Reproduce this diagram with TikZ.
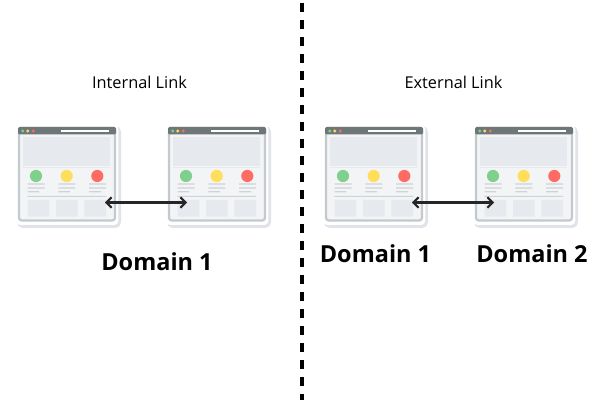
\documentclass[tikz,border=0pt]{standalone}
\usepackage{fontspec}
\setmainfont{Open Sans}
\usetikzlibrary{arrows.meta}
\definecolor{framegrey}{HTML}{C3C9CF}
\definecolor{shadowgrey}{HTML}{E0E3E8}
\definecolor{pagegrey}{HTML}{F3F4F5}
\definecolor{panelgrey}{HTML}{E6E9ED}
\definecolor{bargrey}{HTML}{6D7777}
\definecolor{linegrey}{HTML}{CFD3D7}
\definecolor{dotgreen}{HTML}{7FD08C}
\definecolor{dotyellow}{HTML}{FFDE59}
\definecolor{dotred}{HTML}{FF6B63}
\tikzset{
  every picture/.style={line join=round, line cap=butt},
  linktitle/.style={font=\fontsize{11.6}{14}\selectfont, text=black},
  domainlabel/.style={font=\fontsize{16.7}{20}\selectfont\bfseries, text=black},
  linkarrow/.style={<->, >={Straight Barb[length=3.6pt,width=7.5pt]}, line width=1.5pt, draw=black!85},
  webpage/.pic={
    \fill[shadowgrey,rounded corners=4pt](-1,-1) rectangle (103,101);
    \fill[white,rounded corners=3pt](-2,-2) rectangle (100.3,98);
    \draw[framegrey,fill=pagegrey,line width=1.6pt,rounded corners=2pt](1,1) rectangle (97,93.5);
    \fill[bargrey,rounded corners=1pt](0,0) rectangle (98,7.5);
    \fill[dotgreen](4.7,4) circle (1.6);
    \fill[dotyellow](9.7,4) circle (1.6);
    \fill[dotred](15.3,4) circle (1.6);
    \fill[white](43,2.8) rectangle (91,5.2);
    \fill[panelgrey](4.7,10) rectangle (92,38.7);
    \fill[panelgrey](4.7,40) rectangle (92,41);
    \fill[dotgreen](18,49) circle (6.1);
    \fill[dotyellow](48.7,49) circle (6.1);
    \fill[dotred](79.3,49) circle (6.1);
    \fill[linegrey](9.7,56.5) rectangle (26.7,57.7)
    (9.7,60.4) rectangle (26.7,61.6)
    (9.7,64.2) rectangle (21,65.4)
    (40.3,56.5) rectangle (57.3,57.7)
    (40.3,60.4) rectangle (57.3,61.6)
    (40.3,64.2) rectangle (52,65.4)
    (71,56.5) rectangle (88,57.7)
    (71,60.4) rectangle (88,61.6)
    (71,64.2) rectangle (83,65.4)
    (9.3,69) rectangle (88,70);
    \fill[panelgrey](9.7,73) rectangle (31.3,89.7)
    (38,73) rectangle (59.7,89.7)
    (66.3,73) rectangle (88,89.7);
    \coordinate (-linkout) at (87,75.5);
    \coordinate (-linkin) at (19,75.5);
  },
}

\begin{document}
\begin{tikzpicture}[x=0.025cm,y=-0.025cm]
\useasboundingbox(0,0) rectangle (600,400);
\coordinate (top) at (301.7,3);
\coordinate (bottom) at (301.7,400);
\draw[line width=2.7pt,dash pattern=on 6.4pt off 5.7pt](top)--(bottom);
\pic (internalone) at (18,127) {webpage};
\pic (internaltwo) at (168,127) {webpage};
\pic (externalone) at (325,127) {webpage};
\pic (externaltwo) at (475,127) {webpage};
\draw[linkarrow](internalone-linkout)--(internaltwo-linkin);
\draw[linkarrow](externalone-linkout)--(externaltwo-linkin);
\node[linktitle] (internaltitle) at (139.5,82.5) {Internal Link};
\node[linktitle] (externaltitle) at (453.5,82.5) {External Link};
\node[domainlabel] (internaldomain) at (157,261.5) {Domain 1};
\node[domainlabel] (externaldomainone) at (375.5,254) {Domain 1};
\node[domainlabel] (externaldomaintwo) at (532,254) {Domain 2};
\end{tikzpicture}
\end{document}
